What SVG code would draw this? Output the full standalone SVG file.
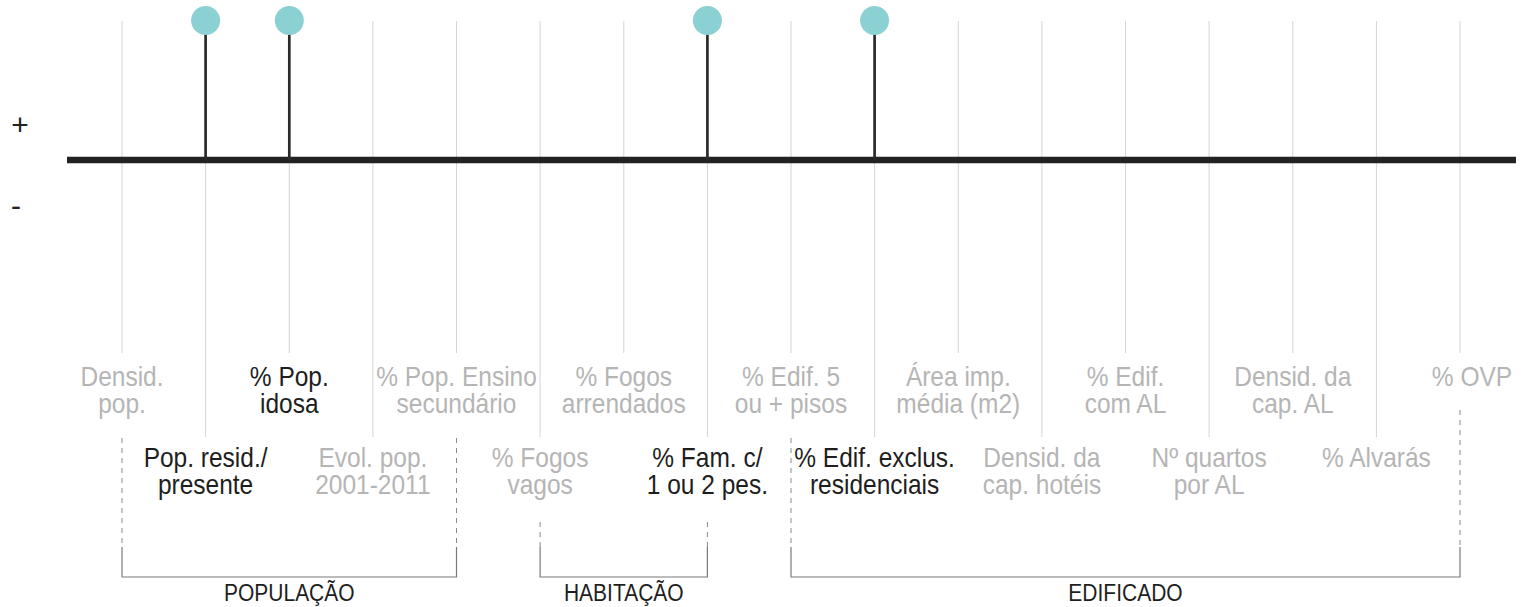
<svg xmlns="http://www.w3.org/2000/svg" width="1532" height="607" viewBox="0 0 1532 607">
<style>
.grid{stroke:#d4d4d4;stroke-width:1;fill:none}
.stem{stroke:#2a2a2a;stroke-width:2.7;fill:none}
.dot{fill:#8bd1d3}
.axis{stroke:#222;stroke-width:6.5;fill:none}
.dash{stroke:#8a8a8a;stroke-width:1;stroke-dasharray:5 5;fill:none}
.br{stroke:#7a7a7a;stroke-width:1.2;fill:none}
text{font-family:"Liberation Sans",Arial,sans-serif;text-anchor:middle}
.lbl{font-size:24.5px}
.g{fill:#b5b5b5}
.k{fill:#1e1e1e}
.grp{font-size:21px;fill:#1e1e1e}
.sign{font-size:30px;fill:#222}
</style>
<rect width="1532" height="607" fill="#fff"/>
<g id="grid">
<line class="grid" x1="122" y1="21" x2="122" y2="353"/>
<line class="grid" x1="205.6" y1="21" x2="205.6" y2="437"/>
<line class="grid" x1="289.3" y1="21" x2="289.3" y2="353"/>
<line class="grid" x1="372.9" y1="21" x2="372.9" y2="437"/>
<line class="grid" x1="456.5" y1="21" x2="456.5" y2="353"/>
<line class="grid" x1="540.1" y1="21" x2="540.1" y2="437"/>
<line class="grid" x1="623.8" y1="21" x2="623.8" y2="353"/>
<line class="grid" x1="707.4" y1="21" x2="707.4" y2="437"/>
<line class="grid" x1="791" y1="21" x2="791" y2="353"/>
<line class="grid" x1="874.6" y1="21" x2="874.6" y2="437"/>
<line class="grid" x1="958.3" y1="21" x2="958.3" y2="353"/>
<line class="grid" x1="1041.9" y1="21" x2="1041.9" y2="437"/>
<line class="grid" x1="1125.5" y1="21" x2="1125.5" y2="353"/>
<line class="grid" x1="1209.1" y1="21" x2="1209.1" y2="437"/>
<line class="grid" x1="1292.8" y1="21" x2="1292.8" y2="353"/>
<line class="grid" x1="1376.4" y1="21" x2="1376.4" y2="437"/>
<line class="grid" x1="1460" y1="21" x2="1460" y2="353"/>
</g>
<g id="axis">
<line class="axis" x1="67" y1="160" x2="1516" y2="160"/>
<text class="sign" x="20" y="135">+</text>
<text class="sign" x="16" y="216">-</text>
</g>
<g id="connectors">
<line class="stem" x1="205.6" y1="30" x2="205.6" y2="160"/>
<line class="stem" x1="289.3" y1="30" x2="289.3" y2="160"/>
<line class="stem" x1="707.4" y1="30" x2="707.4" y2="160"/>
<line class="stem" x1="874.6" y1="30" x2="874.6" y2="160"/>
<line class="dash" x1="122" y1="438" x2="122" y2="547"/>
<line class="dash" x1="456.5" y1="438" x2="456.5" y2="547"/>
<line class="dash" x1="540.1" y1="522" x2="540.1" y2="547"/>
<line class="dash" x1="707.4" y1="522" x2="707.4" y2="547"/>
<line class="dash" x1="791" y1="438" x2="791" y2="547"/>
<line class="dash" x1="1460" y1="410" x2="1460" y2="547"/>
</g>
<g id="dots">
<circle class="dot" cx="205.6" cy="20.5" r="14.5"/>
<circle class="dot" cx="289.3" cy="20.5" r="14.5"/>
<circle class="dot" cx="707.4" cy="20.5" r="14.5"/>
<circle class="dot" cx="874.6" cy="20.5" r="14.5"/>
</g>
<g id="upper-labels" class="lbl" transform="translate(0 386) scale(1 1.1) translate(0 -386)">
<g id="n-densid-pop"><text class="g" x="122" y="386">Densid.</text><text class="g" x="122" y="410.5">pop.</text></g>
<g id="n-pop-idosa"><text class="k" x="289.3" y="386">% Pop.</text><text class="k" x="289.3" y="410.5">idosa</text></g>
<g id="n-ensino"><text class="g" x="456.5" y="386">% Pop. Ensino</text><text class="g" x="456.5" y="410.5">secundário</text></g>
<g id="n-fogos-arr"><text class="g" x="623.8" y="386">% Fogos</text><text class="g" x="623.8" y="410.5">arrendados</text></g>
<g id="n-edif5"><text class="g" x="791" y="386">% Edif. 5</text><text class="g" x="791" y="410.5">ou + pisos</text></g>
<g id="n-area"><text class="g" x="958.3" y="386">Área imp.</text><text class="g" x="958.3" y="410.5">média (m2)</text></g>
<g id="n-edif-al"><text class="g" x="1125.5" y="386">% Edif.</text><text class="g" x="1125.5" y="410.5">com AL</text></g>
<g id="n-cap-al"><text class="g" x="1292.8" y="386">Densid. da</text><text class="g" x="1292.8" y="410.5">cap. AL</text></g>
<g id="n-ovp"><text class="g" x="1472" y="386">% OVP</text></g>
</g>
<g id="lower-labels" class="lbl" transform="translate(0 467) scale(1 1.1) translate(0 -467)">
<g id="n-pop-resid"><text class="k" x="205.6" y="467">Pop. resid./</text><text class="k" x="205.6" y="491.5">presente</text></g>
<g id="n-evol"><text class="g" x="372.9" y="467">Evol. pop.</text><text class="g" x="372.9" y="491.5">2001-2011</text></g>
<g id="n-fogos-vagos"><text class="g" x="540.1" y="467">% Fogos</text><text class="g" x="540.1" y="491.5">vagos</text></g>
<g id="n-fam"><text class="k" x="707.4" y="467">% Fam. c/</text><text class="k" x="707.4" y="491.5">1 ou 2 pes.</text></g>
<g id="n-edif-res"><text class="k" x="874.6" y="467">% Edif. exclus.</text><text class="k" x="874.6" y="491.5">residenciais</text></g>
<g id="n-hoteis"><text class="g" x="1041.9" y="467">Densid. da</text><text class="g" x="1041.9" y="491.5">cap. hotéis</text></g>
<g id="n-quartos"><text class="g" x="1209.1" y="467">Nº quartos</text><text class="g" x="1209.1" y="491.5">por AL</text></g>
<g id="n-alvaras"><text class="g" x="1376.4" y="467">% Alvarás</text></g>
</g>
<g id="groups">
<g id="g-populacao"><path class="br" d="M122 547V577H456.5V547"/></g>
<g id="g-habitacao"><path class="br" d="M540.1 547V577H707.4V547"/></g>
<g id="g-edificado"><path class="br" d="M791 547V577H1460V547"/></g>
<g id="group-labels" transform="translate(0 601) scale(1 1.12) translate(0 -601)">
<text class="grp" x="289.3" y="601">POPULAÇÃO</text>
<text class="grp" x="623.8" y="601">HABITAÇÃO</text>
<text class="grp" x="1125.5" y="601">EDIFICADO</text>
</g>
</g>
</svg>
